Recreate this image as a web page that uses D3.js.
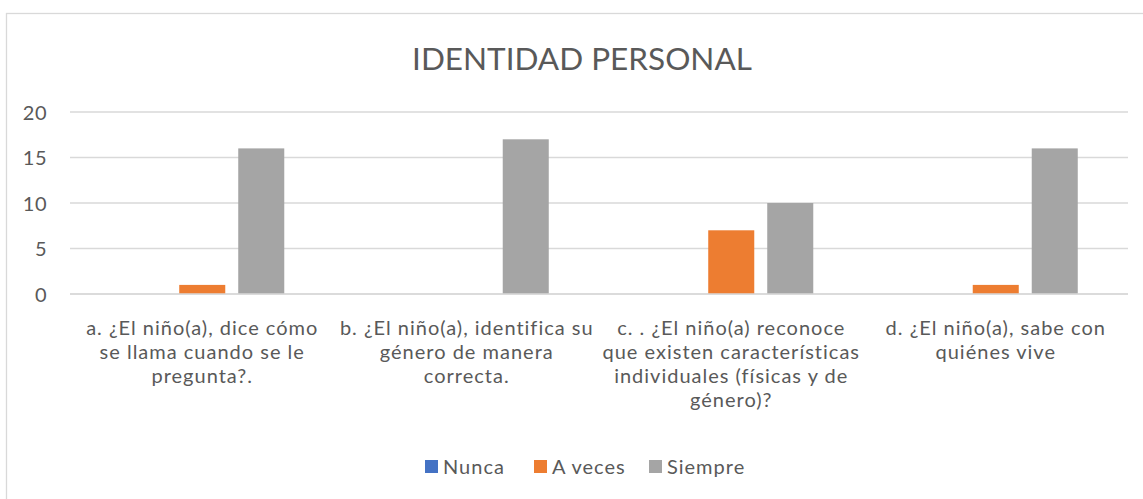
<!DOCTYPE html>
<html>
<head>
<meta charset="utf-8">
<script src="https://cdn.jsdelivr.net/npm/d3@7"></script>
<style>
  html, body { margin: 0; padding: 0; background: #fff; }
  svg { display: block; font-family: Lato, "Open Sans", sans-serif; }
</style>
</head>
<body>
<div id="chart"></div>
<script>
// ── Data ──
const title = "IDENTIDAD PERSONAL";
const categories = ["a", "b", "c", "d"];
const categoryLabels = [
  ["a. ¿El niño(a), dice cómo", "se llama cuando se le", "pregunta?."],
  ["b. ¿El niño(a), identifica su", "género de manera", "correcta."],
  ["c. . ¿El niño(a) reconoce", "que existen características", "individuales (físicas y de", "género)?"],
  ["d. ¿El niño(a), sabe con", "quiénes vive"]
];
const seriesNames = ["Nunca", "A veces", "Siempre"];
const nunca   = [0, 0, 0, 0];
const aVeces  = [1, 0, 7, 1];
const siempre = [16, 17, 10, 16];
const yTicks  = [0, 5, 10, 15, 20];

const seriesValues = [nunca, aVeces, siempre];
const colors = ["#4472C4", "#ED7D31", "#A5A5A5"];

// ── Layout ──
const W = 1143, H = 499;
const plot = { left: 70, right: 1128, top: 112, bottom: 294 };

const svg = d3.select("#chart").append("svg")
  .attr("width", W).attr("height", H);

// chart border (runs off the right and bottom edges)
svg.append("rect")
  .attr("x", 6.5).attr("y", 13.5)
  .attr("width", W + 20).attr("height", H + 20)
  .attr("fill", "#fff")
  .attr("stroke", "#D9D9D9")
  .attr("stroke-width", 1.3);

// ── Title ──
svg.append("text")
  .attr("x", 582).attr("y", 70)
  .attr("text-anchor", "middle")
  .style("font-size", "31.5px")
  .style("fill", "#595959")
  .text(title);

// ── Scales ──
const x0 = d3.scaleBand()
  .domain(categories)
  .range([plot.left, plot.right])
  .padding(0);

const x1 = d3.scaleBand()
  .domain(seriesNames)
  .range([-88.5, 88.5])
  .paddingInner(0.22)
  .paddingOuter(0.11);

const y = d3.scaleLinear()
  .domain([0, 20])
  .range([plot.bottom, plot.top]);

// ── Gridlines ──
svg.append("g")
  .selectAll("line")
  .data(yTicks)
  .join("line")
  .attr("x1", plot.left).attr("x2", plot.right)
  .attr("y1", d => y(d)).attr("y2", d => y(d))
  .attr("stroke", "#D9D9D9")
  .attr("stroke-width", 1.5);

// ── Y axis labels ──
const yAxis = d3.axisLeft(y).tickValues(yTicks).tickSize(0).tickPadding(0);
const yG = svg.append("g")
  .attr("transform", `translate(${plot.left - 23},0)`)
  .call(yAxis);
yG.select(".domain").remove();
yG.selectAll("text")
  .attr("dy", "0.35em")
  .style("font-family", "Lato, \"Open Sans\", sans-serif")
  .style("font-size", "20px")
  .style("letter-spacing", "0.5px")
  .style("fill", "#595959");

// ── Bars ──
const groups = svg.append("g")
  .selectAll("g")
  .data(categories)
  .join("g")
  .attr("transform", c => `translate(${x0(c) + x0.bandwidth() / 2},0)`);

groups.selectAll("rect")
  .data((c, i) => seriesNames.map((s, k) => ({ s, k, v: seriesValues[k][i] })))
  .join("rect")
  .filter(d => d.v > 0)
  .attr("x", d => x1(d.s))
  .attr("width", x1.bandwidth())
  .attr("y", d => y(d.v))
  .attr("height", d => y(0) - y(d.v))
  .attr("fill", d => colors[d.k]);

// x axis line over bar bottoms
svg.append("line")
  .attr("x1", plot.left).attr("x2", plot.right)
  .attr("y1", y(0)).attr("y2", y(0))
  .attr("stroke", "#D9D9D9")
  .attr("stroke-width", 1.5);

// ── Category labels (one text per line) ──
const labelG = svg.append("g");
categories.forEach((c, i) => {
  const cx = x0(c) + x0.bandwidth() / 2;
  categoryLabels[i].forEach((line, j) => {
    labelG.append("text")
      .attr("x", cx)
      .attr("y", 335 + j * 24)
      .attr("text-anchor", "middle")
      .style("font-size", "20px")
      .style("letter-spacing", "1px")
      .style("fill", "#595959")
      .text(line);
  });
});

// ── Legend ──
const legendX = [425, 534, 649];
const legend = svg.append("g");
seriesNames.forEach((s, k) => {
  legend.append("rect")
    .attr("x", legendX[k]).attr("y", 460)
    .attr("width", 13).attr("height", 13)
    .attr("fill", colors[k]);
  legend.append("text")
    .attr("x", legendX[k] + 18).attr("y", 474)
    .style("font-size", "20px")
    .style("letter-spacing", "1px")
    .style("fill", "#595959")
    .text(s);
});
</script>
</body>
</html>
